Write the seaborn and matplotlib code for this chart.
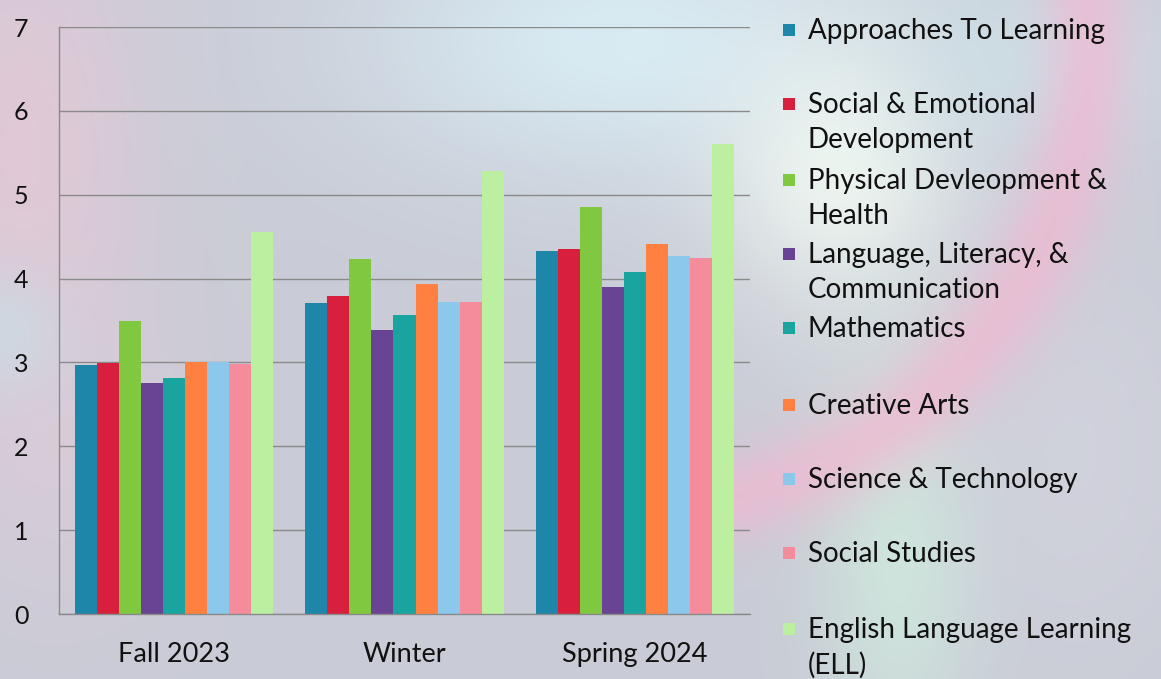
"""Average domain scores by assessment period (grouped bar chart)."""

import matplotlib.pyplot as plt
import matplotlib.patches as mpatches
import numpy as np
import pandas as pd
import seaborn as sns

periods = ["Fall 2023", "Winter", "Spring 2024"]
domains = [
    "Approaches To Learning",
    "Social & Emotional\nDevelopment",
    "Physical Devleopment &\nHealth",
    "Language, Literacy, &\nCommunication",
    "Mathematics",
    "Creative Arts",
    "Science & Technology",
    "Social Studies",
    "English Language Learning\n(ELL)",
]
fall_2023 = [2.97, 2.99, 3.50, 2.75, 2.82, 3.01, 3.00, 2.98, 4.56]
winter = [3.71, 3.79, 4.23, 3.39, 3.57, 3.93, 3.72, 3.72, 5.28]
spring_2024 = [4.33, 4.35, 4.85, 3.90, 4.08, 4.41, 4.27, 4.25, 5.60]
colors = ["#1e86a8", "#d8203e", "#80c840", "#6a4494", "#1aa4a0",
          "#ff8040", "#8cc8ec", "#f48c9c", "#bcf0a0"]

W, H = 1161, 679


def make_background():
    """Soft blurred backdrop similar to the photographed slide."""
    yy, xx = np.mgrid[0:H:4, 0:W:4].astype(float)
    img = np.ones(xx.shape + (3,)) * np.array([0.79, 0.80, 0.84])

    def blob(cx, cy, sx, sy, col, strength):
        w = strength * np.exp(-(((xx - cx) / sx) ** 2 + ((yy - cy) / sy) ** 2))
        return w[..., None] * (np.array(col) - img)

    img += blob(20, 150, 120, 250, [0.92, 0.78, 0.84], 0.7)
    img += blob(60, 450, 120, 150, [0.88, 0.80, 0.86], 0.5)
    img += blob(0, 330, 60, 60, [0.78, 0.88, 0.90], 0.6)
    img += blob(620, 40, 260, 140, [0.86, 0.95, 0.98], 0.8)
    img += blob(840, 170, 120, 140, [0.96, 0.99, 0.96], 0.8)
    img += blob(1050, 60, 140, 100, [0.80, 0.90, 0.92], 0.6)
    img += blob(900, 560, 80, 200, [0.82, 0.96, 0.88], 0.6)
    img += blob(1080, 450, 120, 200, [0.84, 0.84, 0.88], 0.5)
    # pink ring on the right side
    r = np.hypot(xx - 620, yy - 40)
    ring = 0.7 * np.exp(-((r - 470) / 45) ** 2) * (xx > 620)
    img += ring[..., None] * (np.array([0.95, 0.72, 0.82]) - img)
    return np.clip(img, 0, 1)


df = pd.DataFrame({
    "period": np.repeat(periods, len(domains)),
    "domain": domains * len(periods),
    "score": fall_2023 + winter + spring_2024,
})

sns.set_style("white")
plt.rcParams["font.family"] = ["Lato", "DejaVu Sans"]

fig = plt.figure(figsize=(W / 100, H / 100), dpi=100)
bg = fig.add_axes([0, 0, 1, 1], zorder=-10)
bg.imshow(make_background(), aspect="auto", interpolation="bicubic")
bg.axis("off")

ax = fig.add_axes([59 / W, 1 - 614 / H, (750 - 59) / W, (614 - 27) / H])
ax.set_facecolor("none")

sns.barplot(data=df, x="period", y="score", hue="domain", order=periods,
            hue_order=domains, palette=colors, width=0.86, gap=0,
            linewidth=0, saturation=1, legend=False, ax=ax)

ax.set_ylim(0, 7)
ax.set_xlim(-0.5, 2.5)
ax.set_yticks(range(8))
ax.yaxis.grid(True, color="#8a8a8a", linewidth=1)
ax.set_axisbelow(True)
ax.set_xlabel("")
ax.set_ylabel("")
for side in ["top", "right"]:
    ax.spines[side].set_visible(False)
for side in ["left", "bottom"]:
    ax.spines[side].set_color("#8a8a8a")
    ax.spines[side].set_linewidth(1)
ax.tick_params(axis="y", length=8, width=1, color="#8a8a8a", pad=14,
               labelsize=18, labelcolor="#111111")
ax.tick_params(axis="x", which="major", length=0, pad=20, labelsize=19.5,
               labelcolor="#111111")
ax.set_xticks([-0.5, 0.5, 1.5, 2.5], minor=True)
ax.tick_params(axis="x", which="minor", length=6, width=1, color="#8a8a8a")

# legend placed as in the original (entry slots of ~75 px, marker on first line)
line_centers = [30, 104, 180, 254, 328, 405, 479, 553, 629]
for label, col, yc in zip(domains, colors, line_centers):
    fig.patches.append(mpatches.Rectangle(
        (783 / W, 1 - (yc + 6) / H), 12 / W, 12 / H,
        transform=fig.transFigure, facecolor=col, edgecolor="none"))
    fig.text(808 / W, 1 - (yc - 12) / H, label, fontsize=20, color="#111111",
             va="top", ha="left", linespacing=1.42)

fig.savefig("out.png", dpi=100)
plt.close(fig)
